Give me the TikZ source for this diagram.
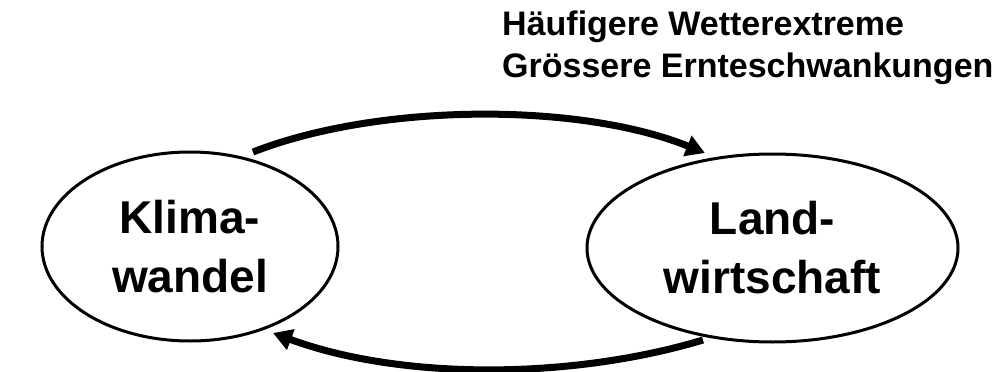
\documentclass[tikz,border=0pt]{standalone}
\usepackage{fontspec}
\setmainfont{Liberation Sans}
\usetikzlibrary{shapes.geometric,arrows.meta}
\begin{document}
\begin{tikzpicture}[x=1pt,y=-1pt,
  bubble/.style={ellipse,draw,line width=3pt,inner sep=0pt,align=center,
    font=\fontsize{46}{59}\selectfont\bfseries},
  flow/.style={line width=7pt,-{Triangle[length=19pt,width=21pt]}},
  note/.style={align=left,inner sep=0pt,font=\fontsize{34}{42}\selectfont\bfseries}]
\path[use as bounding box,fill=white] (0,0) rectangle (1005,372);
\node[bubble,minimum width=296pt,minimum height=189pt] (klima) at (190,246.5) {Klima-\\wandel};
\node[bubble,minimum width=371pt,minimum height=188pt] (land) at (772.5,248) {Land-\\wirtschaft};
\node[note,anchor=base west] (lbl) at (502,77) {Häufigere Wetterextreme\\Grössere Ernteschwankungen};
\coordinate (t1) at ([shift={(63,-94.5)}]klima.center);
\coordinate (t2) at ([shift={(-67.5,-95)}]land.center);
\coordinate (b1) at ([shift={(-69.5,92)}]land.center);
\coordinate (b2) at ([shift={(83,86.5)}]klima.center);
\draw[flow] (t1) .. controls (380,102.5) and (580,102.5) .. (t2);
\draw[flow] (b1) .. controls (570,380) and (400,380) .. (b2);
\end{tikzpicture}
\end{document}
